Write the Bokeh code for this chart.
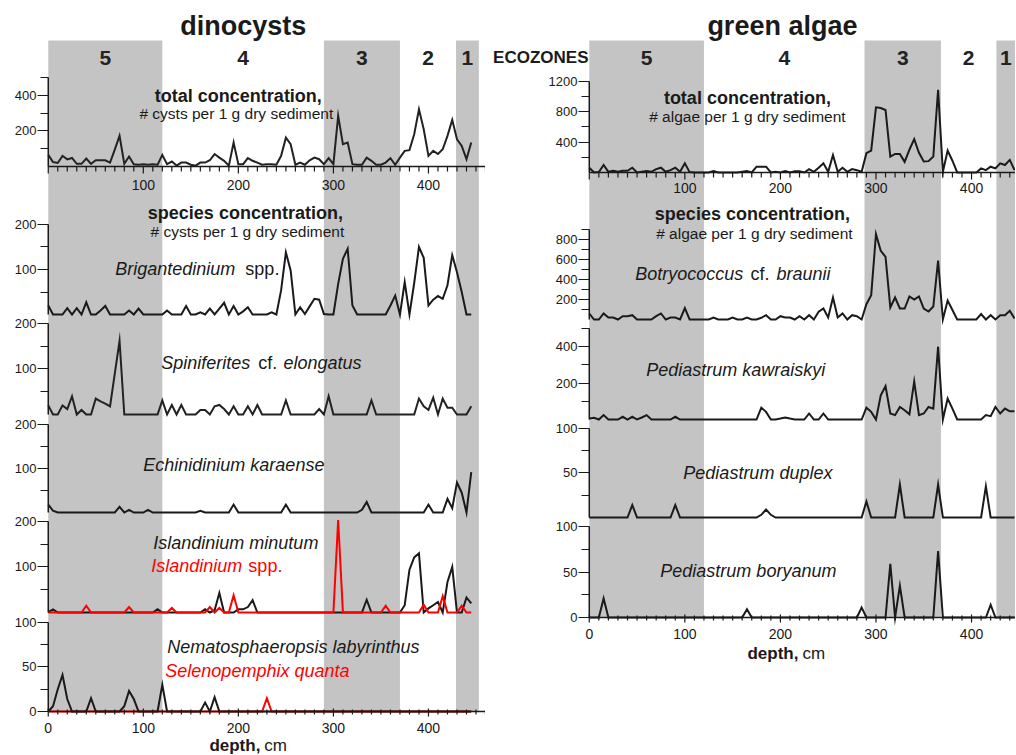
from bokeh.plotting import figure
from bokeh.models import Range1d, FixedTicker, LinearAxis
from bokeh.layouts import row
from bokeh.embed import file_html
from bokeh.resources import INLINE
from bokeh.core.properties import value

FONT = "Liberation Sans"
BAND = "#c4c4c4"
INK = "#1a1a1a"
RED = "#ff0000"

# ------------------------------------------------------------------ data
depth = list(range(0, 450, 5))          # sample depths, cm

dino_total = [65, 25, 20, 60, 40, 48, 15, 15, 45, 15,
              35, 35, 35, 22, 95, 172, 15, 56, 13, 10,
              13, 10, 13, 10, 65, 13, 28, 5, 22, 22,
              10, 5, 22, 22, 35, 70, 50, 32, 5, 135,
              13, 13, 47, 32, 22, 10, 13, 13, 10, 60,
              162, 125, 10, 22, 10, 35, 50, 41, 13, 47,
              13, 284, 125, 135, 13, 10, 10, 50, 32, 10,
              10, 22, 47, 10, 50, 88, 92, 181, 321, 209,
              60, 88, 70, 97, 172, 262, 153, 116, 41, 135]

brigantedinium = [20, 0, 0, 0, 14, 0, 14, 0, 27, 0,
                  0, 9, 19, 0, 0, 0, 0, 9, 0, 13,
                  0, 0, 0, 0, 0, 9, 0, 0, 0, 19,
                  0, 0, 5, 0, 13, 0, 13, 26, 0, 19,
                  0, 7, 16, 0, 0, 0, 0, 5, 0, 54,
                  138, 98, 0, 16, 1, 18, 35, 33, 1, 0,
                  0, 68, 124, 146, 20, 0, 0, 0, 0, 0,
                  0, 0, 20, 42, 0, 72, 0, 70, 150, 126,
                  20, 33, 41, 35, 65, 132, 94, 50, 0, 0]

spiniferites = [20, 0, 0, 20, 12, 40, 0, 10, 0, 0,
                35, 29, 24, 18, 90, 162, 0, 0, 0, 0,
                0, 0, 0, 0, 31, 0, 21, 0, 21, 0,
                0, 0, 10, 10, 0, 18, 21, 12, 0, 18,
                0, 0, 18, 0, 21, 0, 0, 0, 0, 0,
                31, 0, 0, 0, 0, 0, 0, 12, 0, 40,
                0, 0, 0, 0, 0, 0, 0, 0, 31, 0,
                0, 0, 0, 0, 0, 0, 0, 0, 35, 18,
                10, 37, 0, 35, 15, 15, 0, 0, 0, 18]

echinidinium = [18, 4, 0, 0, 0, 0, 0, 0, 0, 0,
                0, 0, 0, 0, 0, 13, 0, 6, 0, 0,
                0, 6, 0, 0, 0, 0, 0, 0, 0, 0,
                0, 0, 4, 0, 0, 0, 0, 0, 0, 18,
                0, 0, 0, 0, 0, 0, 0, 0, 0, 0,
                18, 0, 0, 0, 0, 0, 0, 0, 0, 0,
                0, 0, 0, 0, 0, 0, 6, 24, 0, 0,
                0, 0, 0, 0, 0, 0, 0, 0, 0, 0,
                18, 0, 0, 0, 31, 10, 68, 45, 0, 92]

islandinium_minutum = [1, 7, 0, 0, 0, 0, 0, 0, 0, 0,
                       0, 0, 0, 0, 0, 0, 0, 0, 0, 0,
                       0, 0, 0, 7, 0, 0, 0, 0, 0, 0,
                       0, 0, 0, 7, 0, 5, 43, 0, 0, 0,
                       7, 7, 12, 27, 0, 0, 0, 0, 0, 0,
                       0, 0, 0, 0, 0, 0, 0, 0, 0, 0,
                       0, 0, 0, 0, 0, 0, 0, 28, 0, 0,
                       0, 0, 0, 0, 0, 16, 94, 121, 130, 0,
                       9, 16, 23, 0, 67, 100, 0, 0, 33, 20]

islandinium_spp = [0, 0, 0, 0, 0, 0, 0, 0, 15, 0,
                   0, 0, 0, 0, 0, 0, 0, 12, 0, 0,
                   0, 0, 0, 0, 0, 0, 10, 0, 0, 0,
                   0, 0, 0, 0, 12, 0, 10, 0, 0, 38,
                   0, 0, 0, 0, 0, 0, 0, 0, 0, 0,
                   0, 0, 0, 0, 0, 0, 0, 0, 0, 0,
                   0, 203, 0, 0, 0, 0, 0, 0, 0, 0,
                   0, 15, 0, 0, 0, 0, 0, 0, 0, 17,
                   0, 0, 0, 36, 0, 0, 0, 15, 0, 0]

nematosphaeropsis = [0, 6, 25, 41, 14, 0, 0, 0, 0, 15,
                     0, 0, 0, 0, 0, 0, 6, 23, 14, 0,
                     0, 0, 0, 0, 30, 0, 0, 0, 0, 0,
                     0, 0, 0, 10, 0, 16, 0, 0, 0, 0,
                     0, 0, 0, 0, 0, 0, 0, 0, 0, 0,
                     0, 0, 0, 0, 0, 0, 0, 0, 0, 0,
                     0, 0, 0, 0, 0, 0, 0, 0, 0, 0,
                     0, 0, 0, 0, 0, 0, 0, 0, 0, 0,
                     0, 0, 0, 0, 0, 0, 0, 0, 0, 0]

selenopemphix = [0, 0, 0, 0, 0, 0, 0, 0, 0, 0,
                 0, 0, 0, 0, 0, 0, 0, 0, 0, 0,
                 0, 0, 0, 0, 0, 0, 0, 0, 0, 0,
                 0, 0, 0, 0, 0, 0, 0, 0, 0, 0,
                 0, 0, 0, 0, 0, 0, 15, 0, 0, 0,
                 0, 0, 0, 0, 0, 0, 0, 0, 0, 0,
                 0, 0, 0, 0, 0, 0, 0, 0, 0, 0,
                 0, 0, 0, 0, 0, 0, 0, 0, 0, 0,
                 0, 0, 0, 0, 0, 0, 0, 0, 0, 0]

algae_total = [63, 0, 5, 99, 9, 22, 9, 22, 22, 63,
               0, 9, 18, 9, 45, 63, 9, 31, 63, 9,
               121, 5, 0, 0, 0, 0, 18, 0, 0, 0,
               0, 0, 9, 18, 0, 76, 76, 76, 0, 9,
               0, 18, 0, 18, 18, 0, 45, 9, 63, 121,
               9, 230, 9, 63, 9, 45, 31, 9, 255, 290,
               860, 851, 824, 210, 245, 245, 140, 300, 440, 260,
               145, 150, 210, 1090, 10, 290, 155, 0, 0, 0,
               0, 0, 54, 31, 76, 54, 121, 99, 166, 31]

botryococcus = [60, 0, 0, 60, 20, 20, 0, 33, 33, 43,
                0, 0, 0, 0, 33, 60, 0, 20, 20, 0,
                115, 0, 0, 0, 0, 0, 20, 0, 0, 0,
                20, 0, 0, 20, 0, 0, 17, 43, 0, 0,
                33, 20, 20, 0, 33, 0, 43, 0, 77, 110,
                20, 220, 20, 60, 0, 43, 33, 0, 153, 243,
                853, 687, 627, 120, 220, 110, 110, 230, 200, 230,
                110, 80, 130, 590, 0, 190, 95, 0, 0, 0,
                0, 0, 55, 0, 43, 0, 43, 43, 87, 10]

pediastrum_kawraiskyi = [5, 9, 0, 24, 0, 0, 0, 15, 0, 15,
                         0, 11, 24, 0, 0, 0, 0, 0, 15, 0,
                         0, 0, 0, 0, 0, 0, 0, 0, 0, 0,
                         0, 0, 0, 0, 0, 0, 65, 42, 0, 0,
                         5, 11, 5, 0, 0, 0, 33, 0, 0, 33,
                         0, 0, 0, 0, 0, 0, 0, 0, 65, 42,
                         0, 133, 184, 33, 24, 69, 51, 29, 209, 24,
                         33, 69, 60, 400, 0, 115, 60, 0, 0, 0,
                         0, 0, 0, 24, 18, 69, 33, 60, 45, 45]

pediastrum_duplex = [0, 0, 0, 0, 0, 0, 0, 0, 0, 14,
                     0, 0, 0, 0, 0, 0, 0, 0, 14, 0,
                     0, 0, 0, 0, 0, 0, 0, 0, 0, 0,
                     0, 0, 0, 0, 0, 0, 3, 9, 3, 0,
                     0, 0, 0, 0, 0, 0, 0, 0, 0, 0,
                     0, 0, 0, 0, 0, 0, 0, 0, 18, 0,
                     0, 0, 0, 0, 0, 37, 0, 0, 0, 0,
                     0, 0, 0, 37, 0, 0, 0, 0, 0, 0,
                     0, 0, 0, 35, 0, 0, 0, 0, 0, 0]

pediastrum_boryanum = [0, 0, 0, 21, 0, 0, 0, 0, 0, 0,
                       0, 0, 0, 0, 0, 0, 0, 0, 0, 0,
                       0, 0, 0, 0, 0, 0, 0, 0, 0, 0,
                       0, 0, 0, 9, 0, 0, 0, 0, 0, 0,
                       0, 0, 0, 0, 0, 0, 0, 0, 0, 0,
                       0, 0, 0, 0, 0, 0, 0, 11, 0, 0,
                       0, 0, 0, 59, 0, 35, 0, 0, 0, 0,
                       0, 0, 0, 73, 0, 0, 0, 0, 0, 0,
                       0, 0, 0, 0, 14, 0, 0, 0, 0, 0]

zone_names = ["5", "4", "3", "2", "1"]
zone_grey = [True, False, True, False, True]
zone_lo_dino = [0, 120, 290, 370, 429]
zone_hi_dino = [120, 290, 370, 429, 453]
zone_lo_algae = [0, 120, 288, 368, 426]
zone_hi_algae = [120, 288, 368, 426, 446]
mid_axis_labels = [100, 200, 300, 400]
bottom_axis_labels = [0, 100, 200, 300, 400]


# ------------------------------------------------------------------ helpers
def make_fig(x_end, frame_w, frame_h, b_left):
    p = figure(frame_width=frame_w, frame_height=frame_h, title=None,
               x_range=Range1d(-5, x_end), y_range=Range1d(frame_h, 0),
               x_axis_location=None,
               output_backend="svg", toolbar_location=None,
               min_border_left=b_left, min_border_right=0,
               min_border_top=0, min_border_bottom=0)
    p.grid.visible = False
    p.outline_line_color = None
    p.background_fill_color = "white"
    p.border_fill_color = "white"
    return p


def txt(p, x, y, s, size, style="normal", color=INK, align="left"):
    p.text(x=[x], y=[y], text=[s], text_font=value(FONT),
           text_font_size=f"{size}px", text_font_style=style,
           text_color=color, text_align=align, text_baseline="middle")


def depth_axis(p, base, x_end, labels, label_y, tick_dir):
    """A depth axis drawn in data units at height `base` of the frame."""
    p.segment(x0=[0], y0=[base], x1=[x_end], y1=[base],
              line_color=INK, line_width=1.5)
    tx = list(range(0, int(x_end) + 1, 10))
    if tick_dir == "down":
        top = [base] * len(tx)
        bot = [base + (7 if t % 100 == 0 else 5) for t in tx]
    else:
        top = [base - (3 if t % 100 == 0 else 2) for t in tx]
        bot = [base + (5 if t % 100 == 0 else 3) for t in tx]
    p.segment(x0=tx, y0=top, x1=tx, y1=bot, line_color=INK, line_width=1.2)
    p.text(x=labels, y=[label_y] * len(labels), text=[str(v) for v in labels],
           text_font=value(FONT), text_font_size="14px", text_color=INK,
           text_align="center", text_baseline="middle")


def build(p, panels, frame_h, zlo, zhi, band_top, band_bottom, zone_y,
          axis_end, mid_base, mid_label_y, bot_label_y):
    # ecozone bands
    lo = [a for a, g in zip(zlo, zone_grey) if g]
    hi = [b for b, g in zip(zhi, zone_grey) if g]
    p.quad(left=lo, right=hi, top=band_top, bottom=band_bottom,
           fill_color=BAND, line_color=None)
    centers = [(a + b) / 2 for a, b in zip(zlo, zhi)]
    p.text(x=centers, y=[zone_y] * 5, text=zone_names, text_font=value(FONT),
           text_font_size="21px", text_font_style="bold", text_color="#222222",
           text_align="center", text_baseline="middle")

    # each panel gets its own y scale
    extra = {}
    majors, minors, overrides = [], [], {}
    seg_y0, seg_y1 = [], []
    for (name, y0, y1, vmax, labs, mins, series) in panels:
        k = vmax / (y0 - y1)
        extra[name] = Range1d(start=-(frame_h - y0) * k, end=vmax + y1 * k)
        for v in labs:
            t = int(round(y0 - v / k))
            majors.append(t)
            overrides[t] = str(v)
        for v in mins:
            minors.append(int(round(y0 - v / k)))
        seg_y0.append(y0)
        seg_y1.append(y1)
    p.extra_y_ranges = extra

    for (name, y0, y1, vmax, labs, mins, series) in panels:
        for vals, col in series:
            p.line(depth, vals, y_range_name=name, line_color=col,
                   line_width=2, line_join="miter")

    # vertical axis line of every panel (at depth 0)
    p.segment(x0=[0] * len(seg_y0), y0=seg_y0, x1=[0] * len(seg_y0), y1=seg_y1,
              line_color=INK, line_width=1.5)
    ya = p.yaxis[0]
    ya.ticker = FixedTicker(ticks=majors, minor_ticks=minors)
    ya.major_label_overrides = overrides
    ya.axis_line_color = None
    ya.major_tick_in = 5
    ya.major_tick_out = 6
    ya.minor_tick_in = 5
    ya.minor_tick_out = 3
    ya.major_tick_line_color = INK
    ya.minor_tick_line_color = INK
    ya.major_tick_line_width = 1.2
    ya.minor_tick_line_width = 1.2
    ya.major_label_text_font = FONT
    ya.major_label_text_font_size = "13px"
    ya.major_label_text_color = INK
    ya.major_label_standoff = 1

    # depth axis under the total-concentration panel and at the bottom
    depth_axis(p, mid_base, axis_end, mid_axis_labels, mid_label_y, "down")
    depth_axis(p, band_bottom, axis_end, bottom_axis_labels, bot_label_y, "cross")


def Lx(px):
    return (px - 48) / 0.95


def Rx(px):
    return (px - 589) / 0.955


FRAME_H = 754

# ------------------------------------------------------------------ left: dinocysts
pL = make_fig(460, 442, FRAME_H, 43)
panels_L = [
    ("dtot", 166, 77, 500, [200, 400], [100, 300, 500], [(dino_total, "#222222")]),
    ("brig", 314, 224, 200, [100, 200], [50, 150], [(brigantedinium, INK)]),
    ("spin", 414, 323, 200, [100, 200], [50, 150], [(spiniferites, "#222222")]),
    ("echi", 512, 424, 200, [100, 200], [50, 150], [(echinidinium, INK)]),
    ("isla", 612, 521, 200, [100, 200], [50, 150],
     [(islandinium_minutum, INK), (islandinium_spp, RED)]),
    ("nema", 711, 622, 100, [0, 50, 100], [25, 75],
     [(selenopemphix, RED), (nematosphaeropsis, INK)]),
]
build(pL, panels_L, FRAME_H, zone_lo_dino, zone_hi_dino, 40, 711, 57,
      460, 166, 184, 727)

txt(pL, Lx(243), 25, "dinocysts", 27, "bold", align="center")
txt(pL, Lx(238), 95, "total concentration,", 18, "bold", align="center")
txt(pL, Lx(236), 113, "# cysts per 1 g dry sediment", 15.5, align="center")
txt(pL, Lx(245), 212, "species concentration,", 18, "bold", align="center")
txt(pL, Lx(247), 231, "# cysts per 1 g dry sediment", 15.5, align="center")
txt(pL, Lx(115), 268, "Brigantedinium", 18, "italic")
txt(pL, Lx(245), 268, "spp.", 18)
txt(pL, Lx(161), 362, "Spiniferites", 18, "italic")
txt(pL, Lx(258), 362, "cf.", 18)
txt(pL, Lx(283), 362, "elongatus", 18, "italic")
txt(pL, Lx(143), 464, "Echinidinium karaense", 18, "italic")
txt(pL, Lx(153), 542, "Islandinium minutum", 18, "italic")
txt(pL, Lx(151), 565, "Islandinium", 18, "italic", color=RED)
txt(pL, Lx(248), 565, "spp.", 18, color=RED)
txt(pL, Lx(167), 646, "Nematosphaeropsis labyrinthus", 18, "italic")
txt(pL, Lx(165), 670, "Selenopemphix quanta", 18, "italic", color=RED)
txt(pL, Lx(260), 745, "depth,", 17, "bold", align="right")
txt(pL, Lx(264), 745, "cm", 17)

# ------------------------------------------------------------------ right: green algae
pR = make_fig(446, 431, FRAME_H, 99)
panels_R = [
    ("atot", 172, 81, 1200, [400, 800, 1200], [200, 600, 1000], [(algae_total, INK)]),
    ("botr", 319, 229, 900, [200, 400, 600, 800], [100, 300, 500, 700, 900],
     [(botryococcus, INK)]),
    ("kaw", 419, 328, 500, [200, 400], [100, 300, 500], [(pediastrum_kawraiskyi, INK)]),
    ("dupl", 517, 428, 100, [50, 100], [25, 75], [(pediastrum_duplex, INK)]),
    ("bory", 617, 526, 100, [0, 50, 100], [25, 75], [(pediastrum_boryanum, INK)]),
]
build(pR, panels_R, FRAME_H, zone_lo_algae, zone_hi_algae, 40, 617, 57,
      446, 172, 187, 633)

txt(pR, Rx(782), 25, "green algae", 27, "bold", align="center")
txt(pR, Rx(747), 97, "total concentration,", 18, "bold", align="center")
txt(pR, Rx(747), 116, "# algae per 1 g dry sediment", 15.5, align="center")
txt(pR, Rx(752), 213, "species concentration,", 18, "bold", align="center")
txt(pR, Rx(754), 233, "# algae per 1 g dry sediment", 15.5, align="center")
txt(pR, Rx(635), 273, "Botryococcus", 18, "italic")
txt(pR, Rx(750), 273, "cf.", 18)
txt(pR, Rx(776), 273, "braunii", 18, "italic")
txt(pR, Rx(646), 369, "Pediastrum kawraiskyi", 18, "italic")
txt(pR, Rx(683), 472, "Pediastrum duplex", 18, "italic")
txt(pR, Rx(660), 570, "Pediastrum boryanum", 18, "italic")
txt(pR, Rx(798), 653, "depth,", 17, "bold", align="right")
txt(pR, Rx(802), 653, "cm", 17)

# "ECOZONES" sits in the gap between the two columns: an extra left axis of
# the right figure carries it as its only tick label
eco_axis = LinearAxis(ticker=FixedTicker(ticks=[57]),
                      major_label_overrides={57: "ECOZONES"},
                      axis_line_color=None, major_tick_line_color=None,
                      minor_tick_line_color=None,
                      major_tick_in=0, major_tick_out=0,
                      minor_tick_in=0, minor_tick_out=0,
                      major_label_standoff=-43,
                      major_label_text_font=FONT,
                      major_label_text_font_size="17px",
                      major_label_text_font_style="bold",
                      major_label_text_color=INK)
pR.add_layout(eco_axis, "left")

layout = row(pL, pR, spacing=0)
open("out.html", "w").write(file_html(layout, INLINE))
